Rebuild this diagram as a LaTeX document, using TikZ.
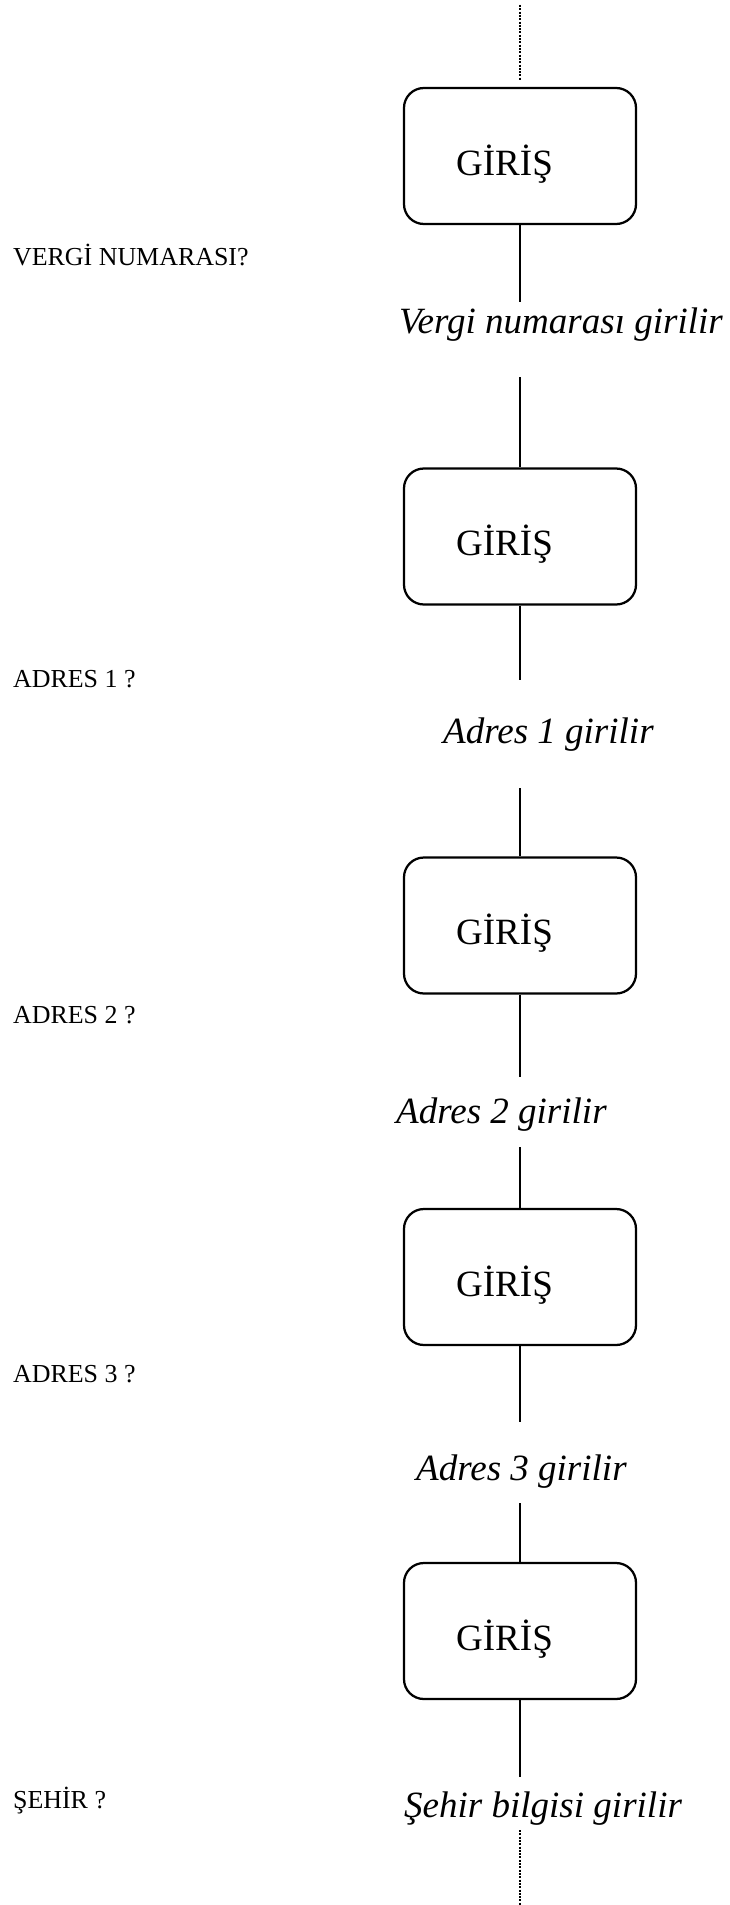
\documentclass[tikz,border=0pt]{standalone}
\usepackage{fontspec}
\setmainfont{Liberation Serif}
\usetikzlibrary{calc}

\begin{document}
\begin{tikzpicture}[-,x=0.378pt,y=-0.378pt,line width=0.85pt,auto]
 				 \tikzstyle{giris}=[draw=black, rounded corners=7.5pt, minimum width=87.7pt, minimum height=51.4pt, font=\fontsize{14}{16}\selectfont]
 				 \tikzstyle{islem}=[anchor=base west, inner sep=0pt, font=\fontsize{14}{16}\selectfont\itshape]
 				 \tikzstyle{soru}=[anchor=base west, inner sep=0pt, font=\fontsize{9.8}{12}\selectfont]
 				 \tikzstyle{noktali}=[line width=1pt, dash pattern=on 0.75pt off 0.5pt]
 				 \useasboundingbox (0,0) rectangle (729,1905);

 					 \node[giris] (G1) at (520,156)    {\rule{0pt}{17.5pt}GİRİŞ\kern11.7pt};
  					 \node[giris] (G2) at (520,536.5)  {\rule{0pt}{17.5pt}GİRİŞ\kern11.7pt};
  					 \node[giris] (G3) at (520,925.5)  {\rule{0pt}{17.5pt}GİRİŞ\kern11.7pt};
  					 \node[giris] (G4) at (520,1277)   {\rule{0pt}{17.5pt}GİRİŞ\kern11.7pt};
  					 \node[giris] (G5) at (520,1631)   {\rule{0pt}{17.5pt}GİRİŞ\kern11.7pt};

  					 \node[islem] (L1) at (398,333)  {Vergi numarası girilir};
  					 \node[islem] (L2) at (442,743)  {Adres 1 girilir};
  					 \node[islem] (L3) at (395,1123) {Adres 2 girilir};
  					 \node[islem] (L4) at (415,1480) {Adres 3 girilir};
  					 \node[islem] (L5) at (403,1817) {Şehir bilgisi girilir};

  					 \node[soru] (S1) at (12,265)  {VERGİ NUMARASI?};
  					 \node[soru] (S2) at (12,687)  {ADRES 1 ?};
  					 \node[soru] (S3) at (12,1023) {ADRES 2 ?};
  					 \node[soru] (S4) at (12,1382) {ADRES 3 ?};
  					 \node[soru] (S5) at (12,1808) {ŞEHİR ?};

  					 \coordinate (t0) at (520,5);
  					 \coordinate (a1) at (520,302);  \coordinate (b1) at (520,377);
  					 \coordinate (a2) at (520,680);  \coordinate (b2) at (520,788);
  					 \coordinate (a3) at (520,1077); \coordinate (b3) at (520,1147);
  					 \coordinate (a4) at (520,1422); \coordinate (b4) at (520,1503);
  					 \coordinate (a5) at (520,1777);
  					 \coordinate (b5) at (520,1830); \coordinate (t6) at (520,1905);

 					  \path
 					  			(t0) edge[noktali, shorten >=2.3pt] (G1)
 					 			(G1) edge (a1)
 					 			(b1) edge (G2)
 					 			(G2) edge (a2)
 					 			(b2) edge (G3)
 					 			(G3) edge (a3)
 					 			(b3) edge (G4)
 					 			(G4) edge (a4)
 					 			(b4) edge (G5)
 					 			(G5) edge (a5)
 					 			(b5) edge[noktali] (t6);
				\end{tikzpicture}
\end{document}
